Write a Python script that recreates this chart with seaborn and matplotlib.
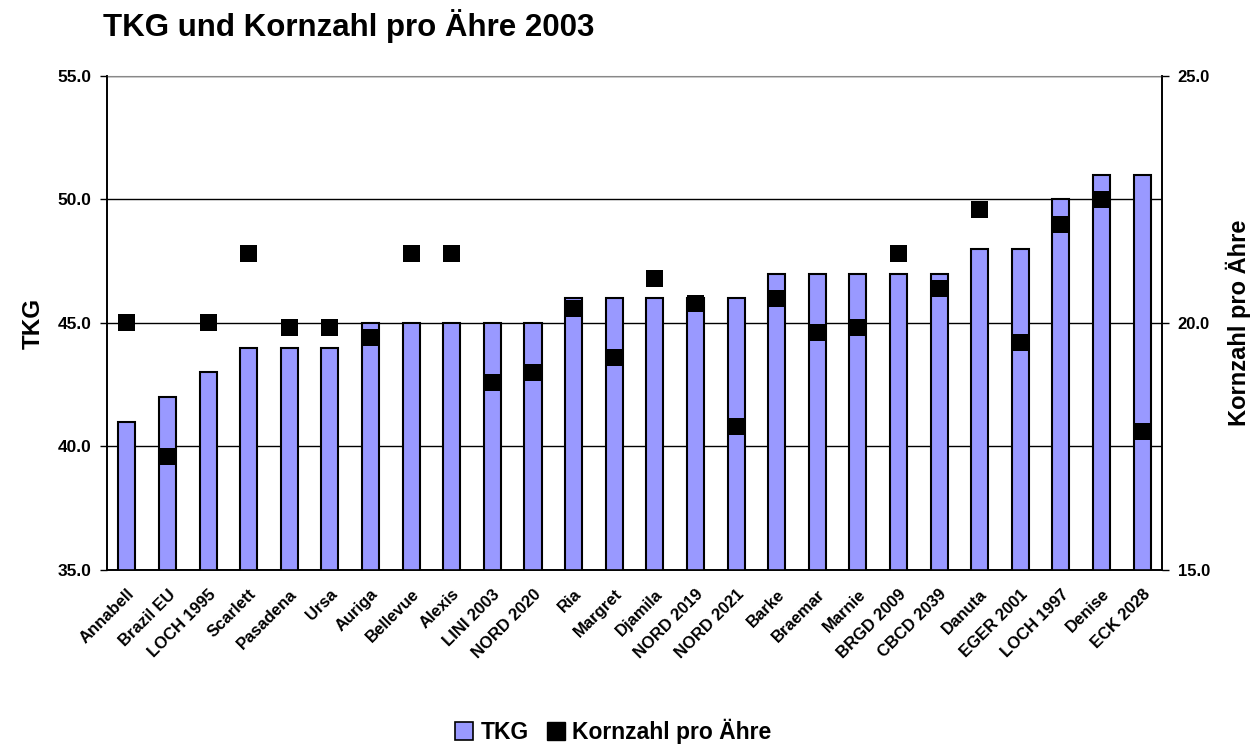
import matplotlib
matplotlib.use("Agg")
import matplotlib.pyplot as plt
from matplotlib.patches import Patch
import numpy as np
import pandas as pd
import seaborn as sns

varieties = ["Annabell", "Brazil EU", "LOCH 1995", "Scarlett", "Pasadena", "Ursa",
             "Auriga", "Bellevue", "Alexis", "LINI 2003", "NORD 2020", "Ria",
             "Margret", "Djamila", "NORD 2019", "NORD 2021", "Barke", "Braemar",
             "Marnie", "BRGD 2009", "CBCD 2039", "Danuta", "EGER 2001",
             "LOCH 1997", "Denise", "ECK 2028"]
tkg = [41, 42, 43, 44, 44, 44, 45, 45, 45, 45, 45, 46, 46, 46, 46, 46,
       47, 47, 47, 47, 47, 48, 48, 50, 51, 51]
kornzahl = [20.0, 17.3, 20.0, 21.4, 19.9, 19.9, 19.7, 21.4, 21.4, 18.8, 19.0,
            20.3, 19.3, 20.9, 20.4, 17.9, 20.5, 19.8, 19.9, 21.4, 20.7, 22.3,
            19.6, 22.0, 22.5, 17.8]

df = pd.DataFrame({"Sorte": varieties, "TKG": tkg, "Kornzahl": kornzahl})

sns.set_style("white")
plt.rcParams["font.family"] = ["Liberation Sans", "DejaVu Sans"]
plt.rcParams["font.weight"] = "bold"
plt.rcParams["text.color"] = "black"
plt.rcParams["axes.labelcolor"] = "black"
plt.rcParams["xtick.color"] = "black"
plt.rcParams["ytick.color"] = "black"

bar_color = "#9999FF"

fig = plt.figure(figsize=(12.54, 7.45), dpi=100)
ax = fig.add_axes([0.085, 0.235, 0.842, 0.663])

sns.barplot(data=df, x="Sorte", y="TKG", color=bar_color, width=0.42,
            edgecolor="black", linewidth=1.5, saturation=1, ax=ax, zorder=3)
ax.set_ylim(35, 55)
ax.set_xlim(-0.5, len(varieties) - 0.5)
ax.set_yticks(np.arange(35, 56, 5))
ax.set_yticklabels([f"{v:.1f}" for v in np.arange(35, 56, 5)], fontsize=12.5, fontweight="bold")
ax.yaxis.grid(True, color="black", linewidth=1)
ax.set_axisbelow(True)

ax.set_xticks(range(len(varieties)))
ax.set_xticklabels(varieties, rotation=45, ha="right", rotation_mode="anchor",
                   fontsize=12, fontweight="bold")
ax.tick_params(axis="x", which="major", length=0, pad=12)
ax.set_xticks(np.arange(-0.5, len(varieties)), minor=True)
ax.tick_params(axis="x", which="minor", length=5, width=1, direction="out", color="black")
ax.tick_params(axis="y", length=5, width=1, direction="out", color="black", pad=6)

ax.set_xlabel("")
ax.set_ylabel("TKG", fontsize=17.5, fontweight="bold", labelpad=9)

for side in ["left", "bottom", "right"]:
    ax.spines[side].set_color("black")
    ax.spines[side].set_linewidth(1.2)
ax.spines["top"].set_color("#888888")

ax2 = ax.twinx()
sns.scatterplot(data=df, x="Sorte", y="Kornzahl", marker="s", s=150, color="black",
                edgecolor="none", ax=ax2, zorder=4, legend=False)
ax2.set_ylim(15, 25)
ax2.set_yticks([15, 20, 25])
ax2.set_yticklabels(["15.0", "20.0", "25.0"], fontsize=12, fontweight="bold")
ax2.tick_params(axis="y", length=5, width=1, direction="out", color="black", pad=6)
ax2.set_ylabel("Kornzahl pro Ähre", fontsize=17, fontweight="bold", labelpad=11)
ax2.set_xlim(-0.5, len(varieties) - 0.5)
ax2.set_xlabel("")
for side in ["left", "bottom", "right"]:
    ax2.spines[side].set_color("black")
    ax2.spines[side].set_linewidth(1.2)
ax2.spines["top"].set_visible(False)

fig.text(0.082, 0.965, "TKG und Kornzahl pro Ähre 2003", fontsize=22.5,
         fontweight="bold", va="center", ha="left")

handles = [Patch(facecolor=bar_color, edgecolor="black", linewidth=1.2, label="TKG"),
           Patch(facecolor="black", edgecolor="black", label="Kornzahl pro Ähre")]
fig.legend(handles=handles, loc="center", bbox_to_anchor=(0.489, 0.018), ncol=2,
           frameon=False, handlelength=0.8, handleheight=0.8,
           handletextpad=0.3, columnspacing=0.8, prop={"weight": "bold", "size": 16.5})

fig.savefig("out.png", dpi=100)
